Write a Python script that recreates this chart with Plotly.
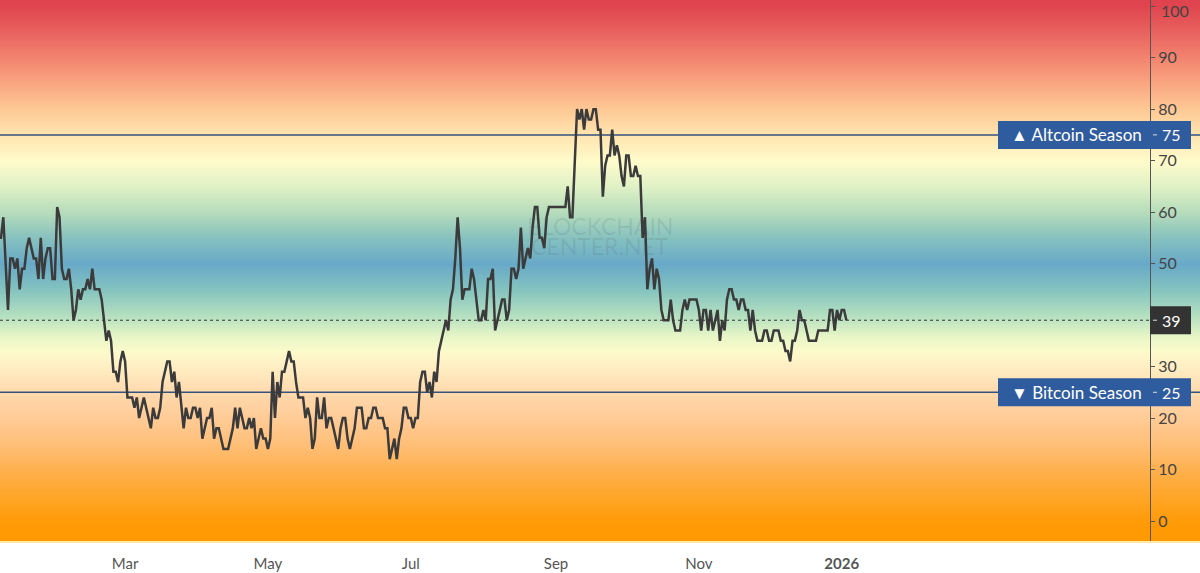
import numpy as np
import pandas as pd
import plotly.graph_objects as go

# altcoin season index, daily
vals_jan_mar = [55, 55, 59, 49, 41, 51, 51, 49, 51, 45, 49, 49, 53, 55, 53, 51, 51, 47, 55, 47,
                51, 53, 53, 47, 47, 61, 59, 49, 47, 47, 49, 45, 39, 41, 45, 43, 45, 45, 47, 45,
                49, 45, 45, 45, 43, 39, 35, 37, 35, 29, 29, 27, 31, 33, 31, 24, 24, 24, 22, 24,
                20, 22]
vals_mar_may = [24, 22, 20, 18, 22, 20, 20, 22, 27, 29, 31, 31, 27, 29, 24, 27, 22, 18, 22, 20,
                20, 22, 22, 20, 22, 16, 18, 20, 20, 22, 16, 18, 18, 16, 14, 14, 14, 16, 18, 22,
                18, 22, 20, 18, 18, 20, 18, 20, 14, 16, 18, 16, 16, 14, 16, 29, 20, 27, 24, 29]
vals_may_jul = [29, 31, 33, 31, 31, 27, 24, 24, 24, 20, 22, 20, 14, 16, 24, 20, 20, 24, 18, 20,
                20, 18, 16, 14, 18, 20, 20, 16, 14, 16, 18, 22, 22, 22, 18, 18, 20, 20, 22, 22,
                20, 20, 20, 18, 18, 12, 14, 16, 12, 16, 18, 22, 22, 20, 20, 18, 20, 20, 27, 29]
vals_jul_sep = [29, 25, 27, 24, 29, 27, 33, 35, 37, 39, 37, 43, 45, 51, 59, 53, 43, 45, 45, 45,
                49, 47, 43, 39, 39, 41, 39, 47, 47, 49, 37, 39, 41, 43, 43, 39, 41, 49, 49, 47,
                49, 57, 49, 51, 53, 51, 57, 61, 61, 55, 55, 53, 59, 61, 61, 61, 61, 61, 61, 61]
vals_sep_nov = [61, 65, 59, 59, 69, 80, 78, 80, 76, 80, 78, 78, 80, 80, 76, 76, 63, 69, 71, 71,
                76, 71, 73, 71, 67, 65, 71, 71, 67, 67, 69, 67, 67, 55, 59, 45, 49, 51, 45, 49,
                47, 41, 39, 39, 39, 43, 39, 37, 37, 37, 41, 43, 41, 43, 43, 43, 43, 41, 37, 41]
vals_nov_jan = [41, 37, 41, 37, 39, 41, 35, 39, 37, 43, 45, 45, 43, 43, 41, 43, 43, 41, 41, 37,
                41, 37, 35, 35, 35, 37, 37, 35, 35, 37, 37, 37, 35, 35, 33, 33, 31, 35, 35, 37,
                41, 39, 39, 37, 35, 35, 35, 35, 37, 37, 37, 37, 37, 41, 41, 37, 41, 39, 41, 41,
                39]
values = vals_jan_mar + vals_mar_may + vals_may_jul + vals_jul_sep + vals_sep_nov + vals_nov_jan
dates = pd.date_range('2025-01-06', periods=len(values), freq='D')

tick_dates = ['2025-03-01', '2025-05-01', '2025-07-01', '2025-09-01', '2025-11-01', '2026-01-01']
tick_names = ['Mar', 'May', 'Jul', 'Sep', 'Nov', '<b>2026</b>']
y_ticks = [0, 10, 20, 30, 50, 60, 70, 80, 90, 100]

# background gradient, level -> colour
bg_levels = [-5, 0, 5, 10, 15, 20, 25, 30, 33, 36, 40, 45, 50, 55, 60, 65, 70, 75, 80, 85, 90, 95, 100, 102]
bg_colors = ['#ff9800', '#ff9b08', '#ffa62a', '#ffb04e', '#ffbf78', '#ffcb96', '#ffd9ad', '#ffeec3',
             '#fdfacb', '#e6f5c6', '#b4dfc0', '#84c3bf', '#68a9c8', '#86c1bf', '#b6dcbb', '#dff1c5',
             '#fffbcb', '#ffe4b0', '#fec995', '#faa681', '#f2846f', '#e8625f', '#e0454f', '#de424c']

x_start, x_end = '2025-01-06 14:00', '2026-06-03'
y_min, y_max = -4.08, 101.2
axis_x = 1150 / 1200
box_left, box_right = 998 / 1200, 1191 / 1200
box_half = 2.72

cmin, cmax = bg_levels[0], bg_levels[-1]
scale = [[(l - cmin) / (cmax - cmin), c] for l, c in zip(bg_levels, bg_colors)]
bg_y = np.arange(cmin, cmax + 0.25, 0.25)

fig = go.Figure()
fig.add_trace(go.Heatmap(x=[x_start, x_end], y=bg_y, z=[[v, v] for v in bg_y],
                         colorscale=scale, zmin=cmin, zmax=cmax, showscale=False,
                         zsmooth='best', hoverinfo='skip'))
for level in [75, 25]:
    fig.add_trace(go.Scatter(x=[x_start, x_end], y=[level, level], mode='lines',
                             line=dict(color='#35537f', width=1.5), hoverinfo='skip'))
fig.add_trace(go.Scatter(x=dates, y=values, mode='lines', line=dict(color='#3b3b3b', width=2.5)))

shapes = [
    dict(type='line', xref='paper', yref='y', x0=0, x1=axis_x, y0=39, y1=39,
         line=dict(color='#333333', width=1, dash='dot')),
    dict(type='line', xref='paper', yref='paper', x0=0, x1=1, y0=0, y1=0,
         line=dict(color='#ffe8a6', width=2)),
]
annotations = []
for level, label, color, left in [(75, '▲ Altcoin Season', '#2f5c9e', box_left),
                                  (25, '▼ Bitcoin Season', '#2f5c9e', box_left),
                                  (39, '', '#333333', axis_x)]:
    shapes.append(dict(type='rect', xref='paper', yref='y', x0=left, x1=box_right,
                       y0=level - box_half, y1=level + box_half, fillcolor=color, line_width=0))
    shapes.append(dict(type='line', xref='paper', yref='y', x0=axis_x + 3 / 1200, x1=axis_x + 7 / 1200,
                       y0=level, y1=level, line=dict(color='#dddddd', width=1)))
    annotations.append(dict(xref='paper', yref='y', x=1160 / 1200, y=level, text=str(level), showarrow=False,
                            xanchor='left', font=dict(color='white', size=16, family='Lato')))
    if label:
        annotations.append(dict(xref='paper', yref='y', x=1009 / 1200, y=level, text=label, showarrow=False,
                                xanchor='left', font=dict(color='white', size=17, family='Lato')))

# plotly drops the top tick label so it goes in by hand
annotations.append(dict(xref='paper', yref='paper', x=1160 / 1200, y=1, text='100', showarrow=False,
                        xanchor='left', yanchor='top', borderpad=0,
                        font=dict(color='#444444', size=16, family='Lato')))

# watermark
annotations.append(dict(xref='paper', yref='y', x=600 / 1200, y=57.3, text='BLOCKCHAIN', showarrow=False,
                        font=dict(color='rgba(50,80,90,0.12)', size=23, family='Lato')))
annotations.append(dict(xref='paper', yref='y', x=600 / 1200, y=53.4, text='CENTER.NET', showarrow=False,
                        font=dict(color='rgba(50,80,90,0.12)', size=23, family='Lato')))

fig.update_xaxes(range=[x_start, x_end], tickmode='array', tickvals=tick_dates, ticktext=tick_names,
                 showgrid=False, zeroline=False, showline=False, ticks='', ticklabelstandoff=11,
                 tickfont=dict(family='Lato', size=15, color='#555555'))
fig.update_yaxes(range=[y_min, y_max], side='right', anchor='free', position=axis_x,
                 tickmode='array', tickvals=y_ticks, showgrid=False, zeroline=False,
                 showline=True, linecolor='#555555', linewidth=1, ticks='outside', ticklen=4,
                 tickcolor='#555555', tickfont=dict(family='Lato', size=16, color='#444444'))
fig.update_layout(width=1200, height=573, margin=dict(l=0, r=0, t=0, b=31), showlegend=False,
                  paper_bgcolor='white', plot_bgcolor='white', shapes=shapes, annotations=annotations)
fig.write_html('out.html', config={'displayModeBar': False},
               post_script="document.body.style.margin='0';document.body.style.overflow='hidden';")
